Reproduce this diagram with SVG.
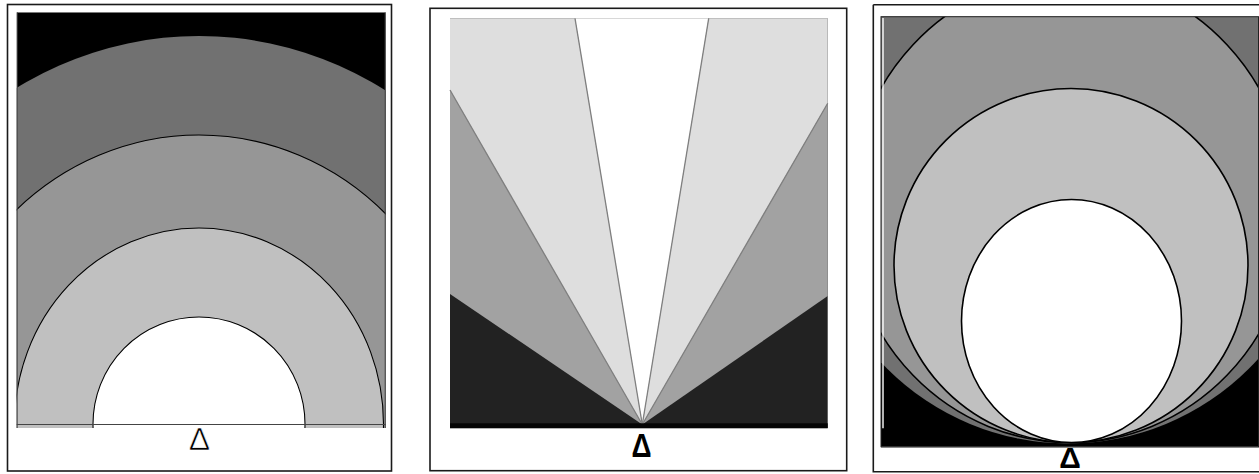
<svg xmlns="http://www.w3.org/2000/svg" width="1259" height="474" viewBox="0 0 1259 474">
<style>
.frame{fill:none;stroke:#1a1a1a;stroke-width:1.6}
.edge{stroke:#444;stroke-width:1;fill:none}
.arc{stroke:#000;stroke-width:1.1}
.arcR{stroke:#000;stroke-width:1.6}
.ray{stroke:#808080;stroke-width:1.3;fill:none}
.delta{font-family:"Liberation Sans",Arial,sans-serif;text-anchor:middle;fill:#000}
.thin{font-family:"Liberation Sans",Arial,sans-serif;text-anchor:middle;fill:#000;stroke:#fff;stroke-width:0.7}
</style>
<defs>
<clipPath id="clipL"><rect x="16.7" y="12.3" width="369" height="415.7"/></clipPath>
<clipPath id="clipR"><rect x="881" y="16.7" width="377.5" height="430"/></clipPath>
</defs>
<rect width="1259" height="474" fill="#fff"/>

<g id="panel-left">
  <rect x="7.5" y="4.5" width="384" height="466.5" class="frame"/>
  <g clip-path="url(#clipL)">
    <rect x="16.7" y="12.3" width="369" height="415.7" fill="#000"/>
    <ellipse cx="199" cy="424" rx="365" ry="388" fill="#717171"/>
    <ellipse cx="199" cy="424" rx="272" ry="289" fill="#969696" class="arc"/>
    <ellipse cx="199" cy="424" rx="184.5" ry="196" fill="#c0c0c0" class="arc"/>
    <ellipse cx="199" cy="424" rx="106" ry="107" fill="#fff" class="arc"/>
  </g>
  <line x1="16.7" y1="424.5" x2="385.7" y2="424.5" stroke="#444" stroke-width="1.2"/>
  <line x1="17.2" y1="12.3" x2="17.2" y2="428" class="edge"/>
  <line x1="385.2" y1="12.3" x2="385.2" y2="428" class="edge"/>
  <text x="199.5" y="450" class="thin" font-size="32">Δ</text>
</g>

<g id="panel-middle">
  <rect x="430" y="8.3" width="416.7" height="462.4" class="frame" stroke-width="2"/>
  <rect x="450" y="18.3" width="377.7" height="409.7" fill="#222"/>
  <polygon points="642.3,424.5 450,294 450,90" fill="#a2a2a2"/>
  <polygon points="642.3,424.5 450,90 450,18.3 575,18.3" fill="#dedede"/>
  <polygon points="642.3,424.5 575,18.3 708.7,18.3" fill="#fff"/>
  <polygon points="642.3,424.5 708.7,18.3 827.7,18.3 827.7,103.3" fill="#dedede"/>
  <polygon points="642.3,424.5 827.7,103.3 827.7,296" fill="#a2a2a2"/>
  <g id="rays">
    <line x1="642.3" y1="424.5" x2="575" y2="18.3" class="ray"/>
    <line x1="642.3" y1="424.5" x2="708.7" y2="18.3" class="ray"/>
    <line x1="642.3" y1="424.5" x2="450" y2="90" class="ray" stroke="#909090"/>
    <line x1="642.3" y1="424.5" x2="827.7" y2="103.3" class="ray" stroke="#909090"/>
  </g>
  <rect x="450" y="423.3" width="377.7" height="5" fill="#050505"/>
  <text x="0" y="0" class="delta" font-size="34" font-weight="bold" transform="translate(641.5,456.5) scale(0.82,1)">Δ</text>
</g>

<g id="panel-right">
  <path d="M873.3,4.7 H1259 M873.3,4.7 V471.8 H1259" class="frame"/>
  <g clip-path="url(#clipR)">
    <rect x="881" y="16.7" width="377.5" height="430" fill="#000"/>
    <circle cx="1068" cy="187.5" r="256" fill="#717171"/>
    <path d="M1070,442.5 A222,229.5 0 0 1 848,213 A222,238 0 0 1 1292,213 A222,229.5 0 0 1 1070,442.5 Z" fill="#969696" class="arcR"/>
    <circle cx="1071" cy="265.5" r="177" fill="#c0c0c0" class="arcR"/>
    <ellipse cx="1071.5" cy="321" rx="110" ry="121.5" fill="#fff" class="arcR"/>
  </g>
  <rect x="881" y="16.7" width="377.5" height="430" fill="none" stroke="#222" stroke-width="1"/>
  <line x1="883" y1="18" x2="883" y2="428.3" stroke="#fff" stroke-width="1.4"/>
  <line x1="881" y1="447.5" x2="1259" y2="447.5" stroke="#888" stroke-width="1"/>
  <text x="1070" y="468" class="delta" font-size="30" font-weight="bold">Δ</text>
</g>
</svg>
